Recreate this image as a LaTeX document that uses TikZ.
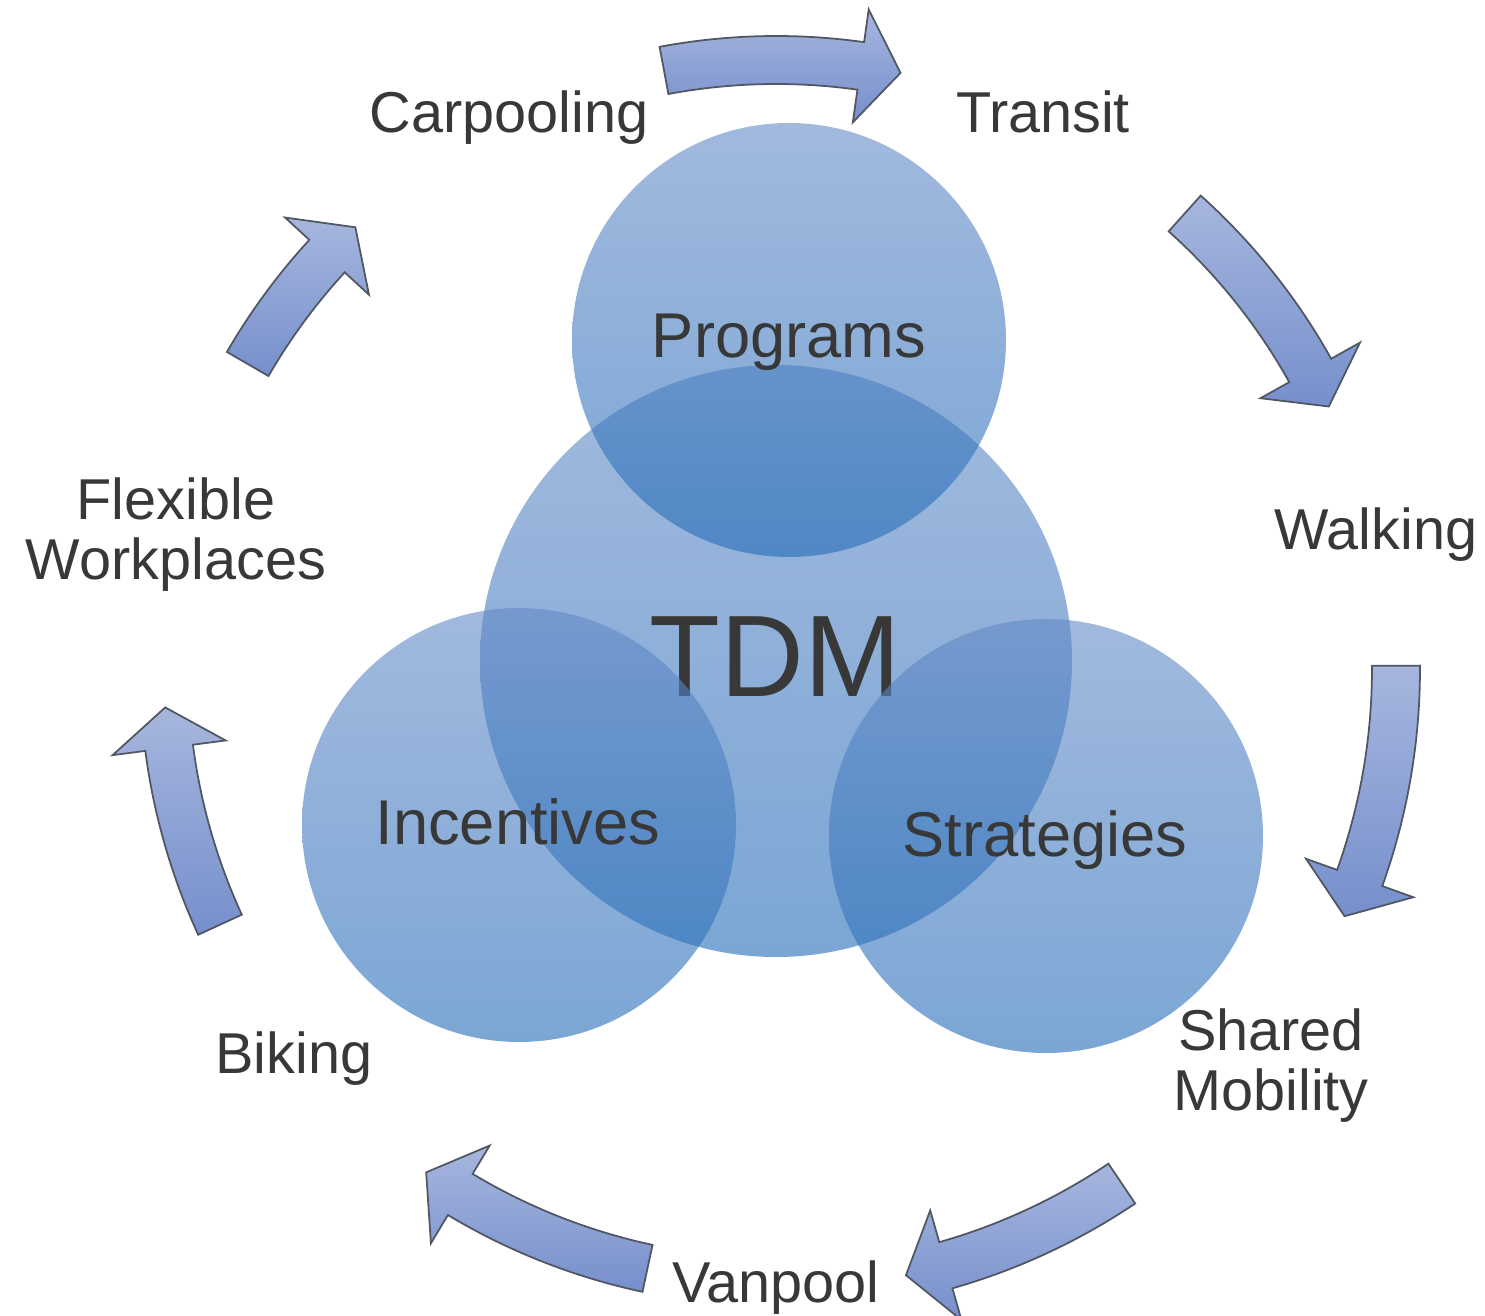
\documentclass[tikz,border=0pt]{standalone}
\usepackage{fontspec}
\setmainfont{Liberation Sans}
\usepackage{xcolor}
\usepackage{tikz}
\usetikzlibrary{shadings}

\definecolor{txtgray}{RGB}{56,56,56}
\definecolor{vennTop}{RGB}{99,138,199}
\definecolor{vennMid}{RGB}{36,109,185}
\definecolor{vennBot}{RGB}{34,107,184}
\definecolor{arrTop}{RGB}{166,182,222}
\definecolor{arrBot}{RGB}{118,143,204}
\definecolor{arrEdge}{RGB}{80,86,98}

\tikzset{
  venn/.style={top color=vennTop, middle color=vennMid, bottom color=vennBot, fill opacity=0.6},
  ring/.style={top color=arrTop, bottom color=arrBot, draw=arrEdge, line width=0.5pt, line join=miter},
  outer/.style={text=txtgray, font=\fontsize{16.4}{17.1}\selectfont, align=center, inner sep=0pt},
  inner/.style={text=txtgray, font=\fontsize{18}{20}\selectfont, inner sep=0pt, anchor=base},
}

\begin{document}
\begin{tikzpicture}[x=0.1mm, y=0.1mm]
\useasboundingbox (0,0) rectangle (1485,-1316);

% venn circles
\shade[venn] (776,-661) circle[radius=296];
\node[text=txtgray, font=\fontsize{33}{36}\selectfont, inner sep=0pt, anchor=base] (tdm) at (775,-697) {TDM};
\shade[venn] (789,-340) circle[radius=217];
\shade[venn] (519,-825) circle[radius=217];
\shade[venn] (1046,-836) circle[radius=217];

\node[inner] (programs) at (789,-358) {Programs};
\node[inner] (incentives) at (518,-845) {Incentives};
\node[inner] (strategies) at (1045,-857) {Strategies};

% modes round the ring
\node[outer, anchor=base] (carpool) at (509,-133) {Carpooling};
\node[outer, anchor=base] (transit) at (1043,-133) {Transit};
\node[outer, anchor=base] (walking) at (1376,-550) {Walking};
\node[outer, anchor=north] (shared) at (1271,-1008) {Shared\\Mobility};
\node[outer, anchor=base] (vanpool) at (776,-1302) {Vanpool};
\node[outer, anchor=base] (biking) at (294,-1073) {Biking};
\node[outer, anchor=north] (flexible) at (176,-477) {Flexible\\Workplaces};

% curved arrows: tail angle / tip angle / radius
\begin{scope}[shift={(776,-669)}]
\foreach \angS/\angE/\rad in {100.6/78.2/609, 48.1/25.4/612, 0.3/-23.5/620,
    -56.1/-77.9/620, -102.1/-124.8/613, -155.3/-176.4/612, 150.0/133.6/610} {
  \pgfmathsetmacro\angB{\angE+3.8}
  \pgfmathsetmacro\rOut{\rad+24}
  \pgfmathsetmacro\rIn{\rad-24}
  \pgfmathsetmacro\hOut{\rad+57}
  \pgfmathsetmacro\hIn{\rad-57}
  \shade[ring] (\angS:\rOut) arc[start angle=\angS, end angle=\angB, radius=\rOut]
    -- (\angB:\hOut) -- (\angE:\rad) -- (\angB:\hIn) -- (\angB:\rIn)
    arc[start angle=\angB, end angle=\angS, radius=\rIn] -- cycle;
}
\end{scope}
\end{tikzpicture}
\end{document}
